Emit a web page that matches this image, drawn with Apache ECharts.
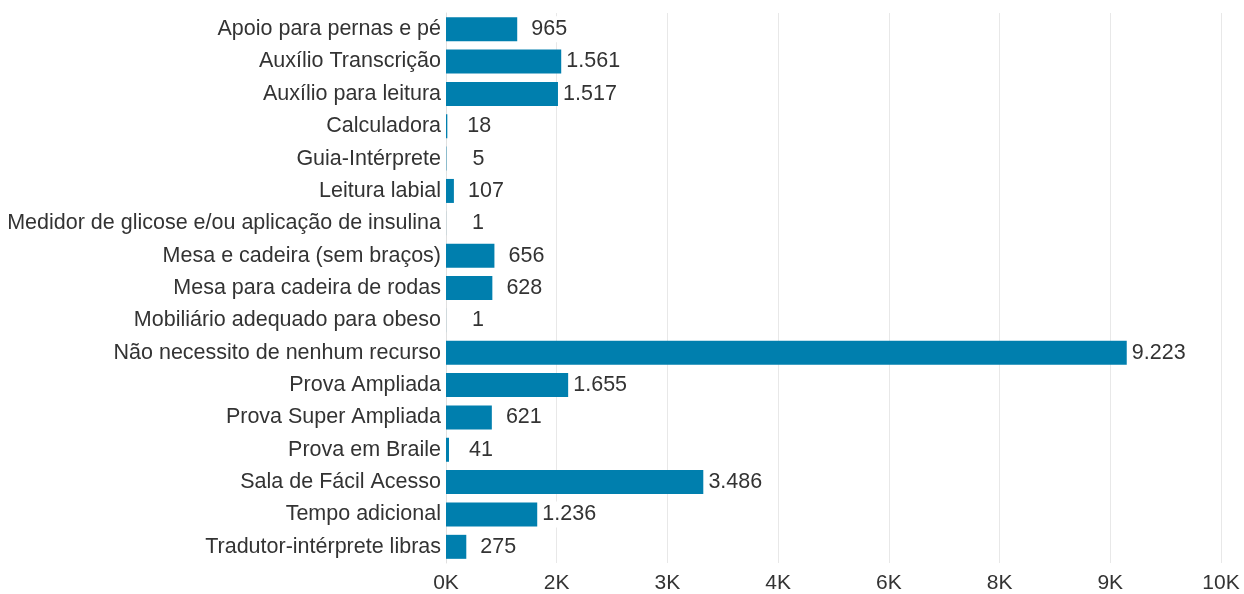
<!DOCTYPE html>
<html>
<head>
<meta charset="utf-8">
<script src="https://cdn.jsdelivr.net/npm/echarts@6/dist/echarts.min.js"></script>
<style>
  html, body { margin: 0; padding: 0; background: #fff; }
  #chart { width: 1244px; height: 594px; }
</style>
</head>
<body>
<div id="chart"></div>
<script>
  // categories, top to bottom
  const categories = [
    'Apoio para pernas e pé',
    'Auxílio Transcrição',
    'Auxílio para leitura',
    'Calculadora',
    'Guia-Intérprete',
    'Leitura labial',
    'Medidor de glicose e/ou aplicação de insulina',
    'Mesa e cadeira (sem braços)',
    'Mesa para cadeira de rodas',
    'Mobiliário adequado para obeso',
    'Não necessito de nenhum recurso',
    'Prova Ampliada',
    'Prova Super Ampliada',
    'Prova em Braile',
    'Sala de Fácil Acesso',
    'Tempo adicional',
    'Tradutor-intérprete libras'
  ];
  const counts = [965, 1561, 1517, 18, 5, 107, 1, 656, 628, 1, 9223, 1655, 621, 41, 3486, 1236, 275];

  // x axis: ticks every 1500, labels as printed in the original
  const tickStep = 1500;
  const tickLabels = ['0K', '2K', '3K', '4K', '6K', '8K', '9K', '10K'];

  const fmt = (v) => String(v).replace(/\B(?=(\d{3})+(?!\d))/g, '.');

  const chart = echarts.init(document.getElementById('chart'));
  chart.setOption({
    animation: false,
    textStyle: { fontFamily: '"Liberation Sans", Arial, sans-serif' },
    grid: { left: 446, right: 23, top: 13, bottom: 30, containLabel: false },
    xAxis: {
      type: 'value',
      min: 0,
      max: tickStep * (tickLabels.length - 1),
      interval: tickStep,
      axisLine: { show: false },
      axisTick: { show: false },
      splitLine: { show: true, lineStyle: { color: '#e8e8e8', width: 1 } },
      axisLabel: {
        color: '#333',
        fontSize: 21,
        margin: 10,
        formatter: (v) => tickLabels[Math.round(v / tickStep)] ?? ''
      }
    },
    yAxis: {
      type: 'category',
      data: categories,
      inverse: true,
      axisLine: { show: true, lineStyle: { color: '#e0e0e0' } },
      axisTick: { show: false },
      axisLabel: { color: '#333', fontSize: 21.5, margin: 5 }
    },
    series: [{
      type: 'bar',
      data: counts,
      barWidth: 24,
      itemStyle: { color: '#007fae' },
      label: {
        show: true,
        position: 'right',
        distance: 32,
        align: 'center',
        color: '#333',
        fontSize: 21.5,
        backgroundColor: '#fff',
        padding: [2, 3],
        formatter: (p) => fmt(p.value)
      }
    }]
  });
</script>
</body>
</html>
